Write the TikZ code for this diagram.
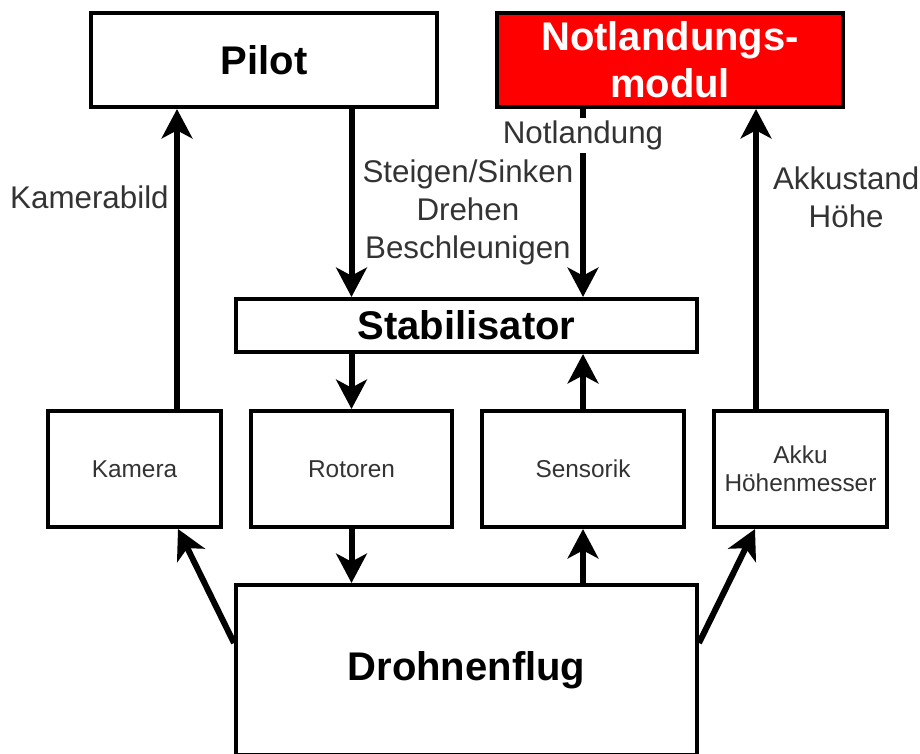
\documentclass[tikz,border=0pt]{standalone}
\usepackage{fontspec}
\setmainfont{Liberation Sans}
\usepackage{xcolor}
\usepackage{tikz}
\usetikzlibrary{arrows.meta, positioning, calc}

\tikzset{
  box/.style={draw, line width=3pt, fill=white, inner sep=0pt, align=center,
    text=black!80, font=\fontsize{18.3}{21}\selectfont},
  headbox/.style={box, text=black, font=\fontsize{30}{35}\selectfont\bfseries},
  flow/.style={line width=4.5pt, -{Stealth[length=22pt, width=23pt, inset=6pt]}},
  lbl/.style={text=black!80, align=center, inner sep=1pt,
    font=\fontsize{23.5}{28.5}\selectfont},
}

\begin{document}
\begin{tikzpicture}[x=0.75pt, y=-0.75pt]
  % Frame
  \useasboundingbox (0,0) rectangle (920,753);
  \clip (0,0) rectangle (920,753);

  % Top boxes
  \node[headbox, minimum width=259.5pt, minimum height=70.5pt] (pilot) at (264,60) {Pilot};
  \node[headbox, fill=red, text=white, minimum width=259.5pt, minimum height=70.5pt] (notl) at (670,60) {Notlandungs-\\modul};

  % Stabilisator
  \node[headbox, minimum width=345.75pt, minimum height=39.75pt] (stab) at (466.5,325.5) {Stabilisator};

  % Middle row
  \node[box, minimum width=129.75pt, minimum height=87pt] (kamera) at (134.5,469) {Kamera};
  \node[box, minimum width=150.75pt, minimum height=87pt] (rotoren) at (351.5,469) {Rotoren};
  \node[box, minimum width=151.5pt, minimum height=87pt] (sensorik) at (583,469) {Sensorik};
  \node[box, minimum width=129.75pt, minimum height=87pt] (akku) at (800.5,469) {Akku\\Höhenmesser};

  % Drone
  \node[headbox, minimum width=345.75pt, minimum height=127.5pt] (flug) at (466.5,670) {Drohnenflug};

  % Arrow ends off the box centres
  \coordinate (camtop) at ($(kamera.north)+(42.5,0)$);
  \coordinate (camfoot) at ($(kamera.south)+(43.5,0)$);
  \coordinate (akkutop) at ($(akku.north)+(-44.5,0)$);
  \coordinate (akkufoot) at ($(akku.south)+(-45.5,0)$);
  \coordinate (flugleft) at ($(flug.north west)+(0,60)$);
  \coordinate (flugright) at ($(flug.north east)+(0,60)$);

  % Upper arrows
  \draw[flow] (camtop) -- (camtop |- pilot.south)
    node[lbl, pos=0.707, left=3pt] (lblcam) {Kamerabild};
  \draw[flow] (pilot.south -| rotoren.north) -- (stab.north -| rotoren.north)
    node[lbl, pos=0.55, right=5pt] (lblsteuer) {Steigen/Sinken\\Drehen\\Beschleunigen};
  \draw[flow] (notl.south -| sensorik.north) -- (stab.north -| sensorik.north)
    node[lbl, pos=0.14, fill=white, inner sep=2pt] (lblnot) {Notlandung};
  \draw[flow] (akkutop) -- (akkutop |- notl.south)
    node[lbl, pos=0.707, right=9.5pt] (lblakku) {Akkustand\\Höhe};

  % Lower arrows
  \draw[flow] (stab.south -| rotoren.north) -- (rotoren.north);
  \draw[flow] (sensorik.north) -- (stab.south -| sensorik.north);
  \draw[flow] (rotoren.south) -- (flug.north -| rotoren.south);
  \draw[flow] (flug.north -| sensorik.south) -- (sensorik.south);
  \draw[flow] (flugleft) -- (camfoot);
  \draw[flow] (flugright) -- (akkufoot);
\end{tikzpicture}
\end{document}
